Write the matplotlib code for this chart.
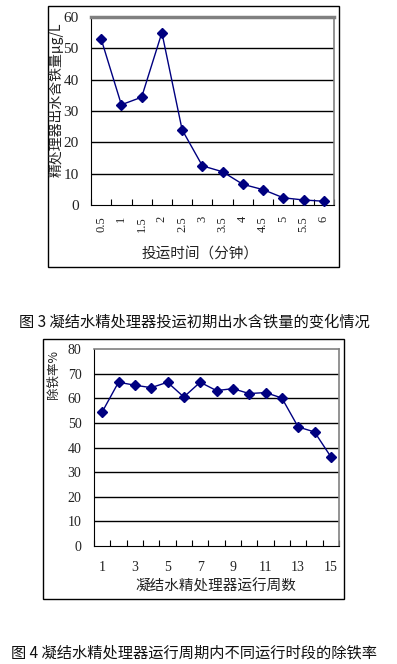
import matplotlib
matplotlib.use("Agg")
import matplotlib.pyplot as plt
from matplotlib.patches import Rectangle
import numpy as np

plt.rcParams['font.family'] = ['Noto Sans CJK SC', 'DejaVu Sans']

# Chart 1 data
t_labels = ["0.5", "1", "1.5", "2", "2.5", "3", "3.5", "4", "4.5", "5", "5.5", "6"]
iron = [53.0, 32.0, 34.4, 55.0, 24.0, 12.5, 10.6, 6.6, 4.9, 2.3, 1.6, 1.2]

# Chart 2 data
weeks = list(range(1, 16))
removal = [54.5, 66.6, 65.4, 64.4, 66.6, 60.6, 66.6, 63.2, 64.0, 62.0, 62.4, 60.2, 48.4, 46.4, 36.3]

W, H = 397, 664
fig = plt.figure(figsize=(W / 100, H / 100), dpi=100)
fig.patch.set_facecolor('white')

def fx(px):
    return px / W

def fy(py):
    return 1 - py / H

navy = '#000080'
numfont = 'Liberation Serif'

# Outer frames
fig.patches.append(Rectangle((fx(48), fy(267)), (339 - 48) / W, (267 - 6) / H,
                             transform=fig.transFigure, fill=False, edgecolor='black', lw=1))
fig.patches.append(Rectangle((fx(43), fy(599)), (344 - 43) / W, (599 - 339) / H,
                             transform=fig.transFigure, fill=False, edgecolor='black', lw=1))

def style_axis(ax, n, ymax, ystep, top_lw, ysize, xsize, xpad, ypad):
    ax.set_xlim(0, n)
    ax.set_ylim(0, ymax)
    ax.set_yticks(np.arange(0, ymax + 1, ystep))
    for y in np.arange(ystep, ymax, ystep):
        ax.axhline(y, color='black', lw=1, zorder=1)
    ax.spines['left'].set_color('black')
    ax.spines['bottom'].set_color('black')
    ax.spines['top'].set_color('#808080')
    ax.spines['right'].set_color('#808080')
    ax.spines['top'].set_linewidth(top_lw)
    ax.spines['right'].set_linewidth(1.2)
    ax.set_xticks(np.arange(0, n + 1), minor=True)
    ax.tick_params(axis='x', which='minor', direction='in', length=4, width=0.8, top=False)
    ax.tick_params(axis='x', which='major', length=0, pad=xpad, labelsize=xsize,
                   labelfontfamily=numfont, labelcolor='#222222')
    ax.tick_params(axis='y', length=0, pad=ypad, labelsize=ysize,
                   labelfontfamily=numfont, labelcolor='#222222')

# Chart 1
ax1 = fig.add_axes([fx(91), fy(205), (334 - 91) / W, (205 - 17) / H])
x1 = np.arange(len(iron)) + 0.5
ax1.plot(x1, iron, color=navy, lw=1, marker='D', ms=5, mfc=navy, mec=navy, zorder=3, clip_on=False)
ax1.set_xticks(x1)
ax1.set_xticklabels(t_labels, rotation=90, va='top', ha='center')
style_axis(ax1, len(iron), 60, 10, 2.5, 11, 9, 8, 9)

fig.text(fx(56), fy(100), '精处理器出水含铁量μg/L', rotation=90, ha='center', va='center',
         fontsize=10, color='#222222')
fig.text(fx(200), fy(255), '投运时间（分钟）', ha='center', va='center', fontsize=10.5, color='#222222')

fig.text(fx(194), fy(322), '图 3 凝结水精处理器投运初期出水含铁量的变化情况', ha='center', va='center',
         fontsize=11, color='#111111')

# Chart 2
ax2 = fig.add_axes([fx(94), fy(546), (339 - 94) / W, (546 - 349.3) / H])
x2 = np.arange(len(removal)) + 0.5
ax2.plot(x2, removal, color=navy, lw=1, marker='D', ms=5, mfc=navy, mec=navy, zorder=3, clip_on=False)
ax2.set_xticks(x2[::2])
ax2.set_xticklabels([str(w) for w in weeks[::2]])
style_axis(ax2, len(removal), 80, 10, 1.2, 10, 10, 11, 9)

fig.text(fx(53), fy(350), '除铁率%', rotation=90, ha='center', va='top', fontsize=9, color='#222222')
fig.text(fx(216), fy(586), '凝结水精处理器运行周数', ha='center', va='center', fontsize=10.5, color='#222222')

fig.text(fx(194), fy(653), '图 4 凝结水精处理器运行周期内不同运行时段的除铁率', ha='center', va='center',
         fontsize=11, color='#111111')

fig.savefig('out.png', dpi=100, facecolor='white')
